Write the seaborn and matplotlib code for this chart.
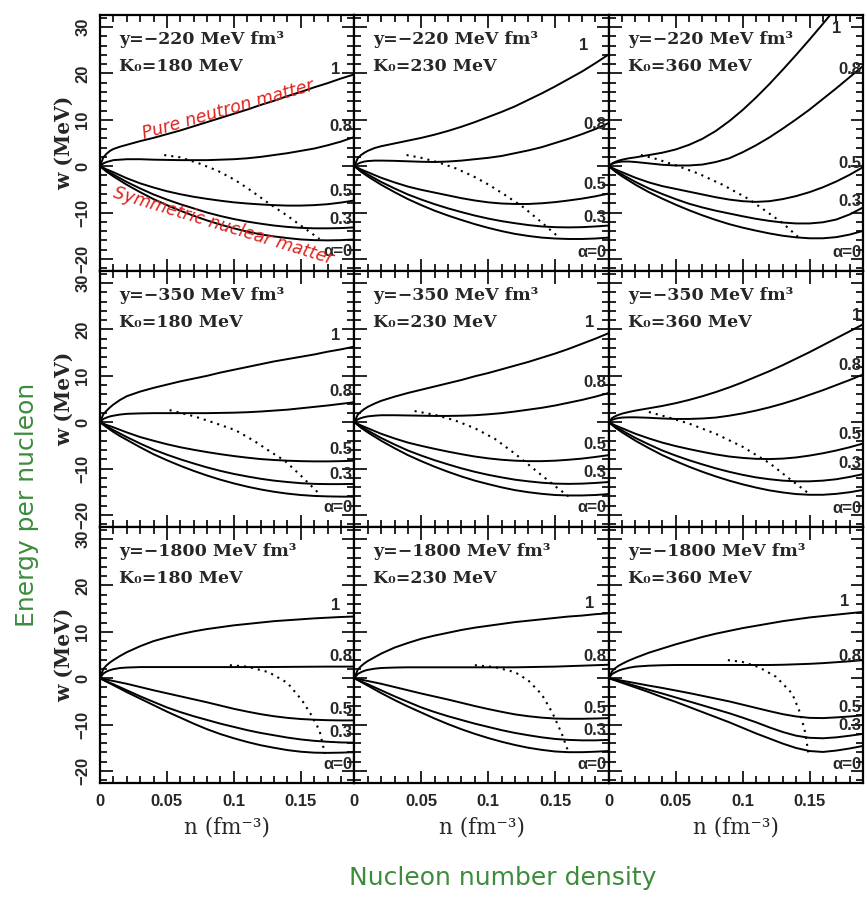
import numpy as np
import pandas as pd
import seaborn as sns
import matplotlib.pyplot as plt
from matplotlib.ticker import MultipleLocator

sns.set_theme(style="white")
plt.rcParams["font.family"] = ["DejaVu Sans"]

# density grid (fm^-3) on which the energy curves are tabulated
N = [0, 0.0025, 0.005, 0.0075, 0.01, 0.015, 0.02, 0.03, 0.04, 0.05, 0.06, 0.07,
     0.08, 0.09, 0.10, 0.11, 0.12, 0.13, 0.14, 0.15, 0.16, 0.17, 0.18, 0.19]
ALPHAS = ["1", "0.8", "0.5", "0.3", "0"]

# energy per nucleon w (MeV) for each asymmetry alpha; y=-220 MeV fm^3
w220_k180 = {
    "1":   [0, 1.9, 2.7, 3.3, 3.7, 4.2, 4.6, 5.4, 6.1, 6.9, 7.7, 8.6, 9.5, 10.4, 11.3, 12.2, 13.2, 14.1, 15.1, 16.0, 17.0, 17.9, 18.9, 19.8],
    "0.8": [0, 0.6, 0.9, 1.1, 1.3, 1.4, 1.5, 1.5, 1.4, 1.35, 1.3, 1.3, 1.3, 1.4, 1.5, 1.7, 2.0, 2.4, 2.8, 3.3, 3.8, 4.5, 5.3, 6.3],
    "0.5": [0, -0.35, -0.7, -1.0, -1.3, -1.95, -2.6, -3.7, -4.6, -5.4, -6.05, -6.6, -7.05, -7.45, -7.8, -8.05, -8.25, -8.4, -8.5, -8.5, -8.4, -8.2, -7.85, -7.4],
    "0.3": [0, -0.5, -1.0, -1.4, -1.8, -2.6, -3.4, -4.8, -6.1, -7.2, -8.2, -9.1, -10.0, -10.75, -11.4, -11.95, -12.4, -12.8, -13.1, -13.3, -13.4, -13.4, -13.35, -13.2],
    "0":   [0, -0.6, -1.2, -1.7, -2.2, -3.1, -4.0, -5.6, -7.1, -8.4, -9.6, -10.7, -11.7, -12.6, -13.4, -14.1, -14.7, -15.15, -15.5, -15.8, -15.95, -16.0, -15.95, -15.8],
}
w220_k230 = {
    "1":   [0, 1.7, 2.4, 2.9, 3.3, 3.9, 4.3, 4.9, 5.5, 6.1, 6.8, 7.6, 8.5, 9.5, 10.6, 11.7, 12.9, 14.3, 15.7, 17.2, 18.8, 20.4, 22.2, 24.1],
    "0.8": [0, 0.5, 0.8, 1.0, 1.1, 1.2, 1.2, 1.15, 1.05, 0.95, 0.9, 1.0, 1.2, 1.5, 1.8, 2.2, 2.8, 3.4, 4.1, 5.0, 5.9, 6.9, 8.0, 9.3],
    "0.5": [0, -0.35, -0.7, -1.0, -1.3, -1.9, -2.5, -3.5, -4.4, -5.1, -5.7, -6.3, -6.9, -7.4, -7.8, -8.05, -8.15, -8.15, -8.0, -7.75, -7.4, -7.0, -6.5, -5.9],
    "0.3": [0, -0.5, -1.0, -1.4, -1.8, -2.6, -3.4, -4.8, -6.1, -7.2, -8.2, -9.1, -9.9, -10.65, -11.3, -11.85, -12.3, -12.7, -13.0, -13.15, -13.2, -13.15, -13.0, -12.8],
    "0":   [0, -0.6, -1.2, -1.7, -2.2, -3.1, -4.0, -5.6, -7.1, -8.4, -9.6, -10.65, -11.6, -12.5, -13.3, -14.0, -14.6, -15.05, -15.4, -15.6, -15.7, -15.7, -15.6, -15.4],
}
w220_k360 = {
    "1":   [0, 0.6, 0.95, 1.2, 1.4, 1.7, 1.9, 2.4, 2.9, 3.6, 4.6, 5.9, 7.6, 9.7, 12.1, 14.8, 17.7, 20.8, 24.0, 27.3, 30.7, 34.2, 37.8, 41.5],
    "0.8": [0, 0.5, 0.75, 0.9, 1.0, 1.0, 0.9, 0.6, 0.3, 0.15, 0.15, 0.35, 0.9, 1.7, 3.0, 4.5, 6.2, 8.1, 10.1, 12.2, 14.5, 16.8, 19.2, 21.6],
    "0.5": [0, -0.35, -0.7, -1.0, -1.3, -1.9, -2.5, -3.5, -4.3, -4.9, -5.5, -6.1, -6.7, -7.2, -7.55, -7.7, -7.55, -7.1, -6.45, -5.6, -4.55, -3.3, -1.85, -0.2],
    "0.3": [0, -0.5, -1.0, -1.4, -1.8, -2.6, -3.4, -4.8, -6.0, -7.1, -8.1, -8.9, -9.6, -10.2, -10.8, -11.35, -11.8, -12.15, -12.35, -12.35, -12.1, -11.5, -10.4, -8.9],
    "0":   [0, -0.6, -1.2, -1.7, -2.2, -3.1, -4.0, -5.6, -7.0, -8.3, -9.5, -10.6, -11.6, -12.5, -13.25, -13.9, -14.5, -15.0, -15.35, -15.55, -15.55, -15.3, -14.75, -13.95],
}
# y=-350 MeV fm^3
w350_k180 = {
    "1":   [0, 1.7, 2.5, 3.2, 3.8, 4.8, 5.6, 6.6, 7.4, 8.1, 8.8, 9.4, 10.0, 10.7, 11.3, 11.9, 12.5, 13.1, 13.6, 14.1, 14.6, 15.2, 15.7, 16.3],
    "0.8": [0, 0.7, 1.0, 1.25, 1.4, 1.65, 1.8, 1.9, 1.95, 1.95, 1.95, 1.95, 1.95, 2.0, 2.05, 2.15, 2.3, 2.5, 2.7, 3.0, 3.3, 3.6, 3.95, 4.3],
    "0.5": [0, -0.3, -0.6, -0.85, -1.1, -1.65, -2.2, -3.2, -4.0, -4.75, -5.4, -5.95, -6.45, -6.9, -7.3, -7.65, -7.95, -8.15, -8.3, -8.4, -8.45, -8.45, -8.4, -8.3],
    "0.3": [0, -0.45, -0.9, -1.3, -1.7, -2.45, -3.2, -4.6, -5.9, -7.0, -8.0, -8.9, -9.75, -10.5, -11.15, -11.7, -12.2, -12.6, -12.9, -13.15, -13.3, -13.35, -13.35, -13.3],
    "0":   [0, -0.55, -1.1, -1.6, -2.1, -3.0, -3.8, -5.4, -6.9, -8.2, -9.4, -10.5, -11.5, -12.4, -13.2, -13.9, -14.5, -15.0, -15.4, -15.7, -15.9, -16.0, -16.05, -16.05],
}
w350_k230 = {
    "1":   [0, 1.6, 2.3, 2.85, 3.3, 4.0, 4.6, 5.5, 6.3, 7.0, 7.7, 8.4, 9.1, 9.9, 10.6, 11.4, 12.2, 13.0, 13.9, 14.8, 15.8, 16.9, 18.0, 19.2],
    "0.8": [0, 0.6, 0.9, 1.1, 1.25, 1.4, 1.5, 1.5, 1.45, 1.4, 1.35, 1.35, 1.4, 1.5, 1.7, 1.95, 2.3, 2.7, 3.1, 3.6, 4.2, 4.8, 5.5, 6.3],
    "0.5": [0, -0.35, -0.7, -1.0, -1.3, -1.9, -2.5, -3.5, -4.4, -5.1, -5.75, -6.35, -6.9, -7.4, -7.8, -8.1, -8.3, -8.4, -8.4, -8.3, -8.1, -7.85, -7.5, -7.1],
    "0.3": [0, -0.5, -1.0, -1.4, -1.8, -2.6, -3.4, -4.8, -6.1, -7.2, -8.2, -9.1, -9.95, -10.7, -11.35, -11.9, -12.4, -12.75, -13.05, -13.25, -13.3, -13.25, -13.1, -12.9],
    "0":   [0, -0.6, -1.2, -1.7, -2.2, -3.1, -4.0, -5.6, -7.1, -8.4, -9.6, -10.7, -11.7, -12.6, -13.35, -14.05, -14.65, -15.1, -15.45, -15.7, -15.8, -15.8, -15.7, -15.5],
}
w350_k360 = {
    "1":   [0, 0.9, 1.3, 1.6, 1.85, 2.2, 2.5, 3.0, 3.5, 4.1, 4.8, 5.6, 6.5, 7.5, 8.6, 9.8, 11.0, 12.3, 13.7, 15.1, 16.6, 18.1, 19.6, 21.1],
    "0.8": [0, 0.5, 0.75, 0.9, 1.0, 1.05, 1.05, 0.95, 0.8, 0.7, 0.7, 0.8, 1.0, 1.4, 1.9, 2.5, 3.2, 4.0, 4.9, 5.9, 6.9, 8.0, 9.1, 10.3],
    "0.5": [0, -0.35, -0.7, -1.0, -1.3, -1.9, -2.5, -3.5, -4.4, -5.15, -5.8, -6.4, -6.95, -7.4, -7.7, -7.9, -7.95, -7.85, -7.6, -7.2, -6.7, -6.1, -5.4, -4.6],
    "0.3": [0, -0.5, -1.0, -1.4, -1.8, -2.6, -3.4, -4.8, -6.1, -7.2, -8.2, -9.1, -9.95, -10.7, -11.35, -11.9, -12.3, -12.6, -12.75, -12.75, -12.6, -12.3, -11.8, -11.2],
    "0":   [0, -0.6, -1.2, -1.7, -2.2, -3.1, -4.0, -5.6, -7.1, -8.4, -9.6, -10.7, -11.7, -12.6, -13.4, -14.1, -14.7, -15.15, -15.5, -15.65, -15.65, -15.45, -15.1, -14.6],
}
# y=-1800 MeV fm^3
w1800_k180 = {
    "1":   [0, 2.0, 2.8, 3.4, 3.9, 4.8, 5.6, 6.9, 8.0, 8.8, 9.5, 10.1, 10.6, 11.0, 11.4, 11.7, 12.0, 12.3, 12.5, 12.7, 12.9, 13.05, 13.2, 13.3],
    "0.8": [0, 1.0, 1.45, 1.75, 1.95, 2.2, 2.3, 2.4, 2.4, 2.4, 2.4, 2.4, 2.4, 2.4, 2.4, 2.4, 2.4, 2.42, 2.44, 2.46, 2.48, 2.5, 2.5, 2.5],
    "0.5": [0, -0.15, -0.3, -0.45, -0.6, -0.9, -1.2, -1.9, -2.6, -3.25, -3.9, -4.55, -5.2, -5.9, -6.6, -7.2, -7.75, -8.2, -8.55, -8.8, -8.95, -9.05, -9.1, -9.1],
    "0.3": [0, -0.35, -0.7, -1.0, -1.3, -1.95, -2.6, -3.9, -5.1, -6.3, -7.3, -8.2, -9.0, -9.8, -10.5, -11.2, -11.8, -12.3, -12.8, -13.2, -13.5, -13.7, -13.85, -13.9],
    "0":   [0, -0.38, -0.75, -1.12, -1.5, -2.25, -3.0, -4.4, -5.8, -7.2, -8.5, -9.8, -11.0, -12.05, -12.95, -13.75, -14.45, -15.0, -15.5, -15.85, -16.05, -16.1, -16.05, -15.95],
}
w1800_k230 = {
    "1":   [0, 1.8, 2.6, 3.2, 3.7, 4.5, 5.3, 6.6, 7.6, 8.5, 9.2, 9.8, 10.4, 10.9, 11.3, 11.7, 12.1, 12.4, 12.7, 13.0, 13.3, 13.5, 13.8, 14.0],
    "0.8": [0, 0.9, 1.3, 1.6, 1.8, 2.05, 2.2, 2.3, 2.35, 2.35, 2.35, 2.35, 2.35, 2.35, 2.35, 2.35, 2.35, 2.4, 2.45, 2.5, 2.6, 2.7, 2.8, 2.9],
    "0.5": [0, -0.15, -0.3, -0.45, -0.6, -0.9, -1.2, -1.9, -2.6, -3.3, -3.95, -4.6, -5.3, -6.0, -6.65, -7.25, -7.8, -8.2, -8.5, -8.7, -8.75, -8.75, -8.7, -8.6],
    "0.3": [0, -0.35, -0.7, -1.0, -1.3, -1.95, -2.6, -3.9, -5.1, -6.3, -7.3, -8.2, -9.0, -9.8, -10.5, -11.2, -11.8, -12.3, -12.75, -13.1, -13.3, -13.4, -13.4, -13.3],
    "0":   [0, -0.4, -0.8, -1.2, -1.6, -2.4, -3.2, -4.7, -6.1, -7.4, -8.7, -9.9, -11.0, -12.0, -12.9, -13.7, -14.4, -15.0, -15.45, -15.8, -15.95, -15.95, -15.85, -15.7],
}
w1800_k360 = {
    "1":   [0, 1.5, 2.2, 2.7, 3.1, 3.8, 4.4, 5.5, 6.4, 7.3, 8.1, 8.9, 9.6, 10.2, 10.8, 11.3, 11.8, 12.3, 12.7, 13.1, 13.4, 13.7, 14.0, 14.3],
    "0.8": [0, 0.9, 1.3, 1.65, 1.9, 2.25, 2.5, 2.7, 2.8, 2.85, 2.85, 2.85, 2.85, 2.85, 2.85, 2.85, 2.85, 2.9, 3.0, 3.1, 3.25, 3.45, 3.65, 3.9],
    "0.5": [0, -0.13, -0.26, -0.4, -0.53, -0.8, -1.06, -1.6, -2.1, -2.65, -3.2, -3.8, -4.4, -5.0, -5.7, -6.4, -7.1, -7.75, -8.25, -8.55, -8.6, -8.45, -8.25, -8.0],
    "0.3": [0, -0.2, -0.4, -0.62, -0.83, -1.25, -1.66, -2.5, -3.3, -4.15, -5.0, -5.85, -6.7, -7.55, -8.5, -9.5, -10.6, -11.6, -12.4, -12.85, -12.95, -12.75, -12.4, -12.0],
    "0":   [0, -0.25, -0.5, -0.75, -1.0, -1.5, -2.0, -3.0, -4.1, -5.1, -6.2, -7.3, -8.4, -9.5, -10.7, -11.9, -13.0, -14.1, -15.05, -15.7, -15.9, -15.6, -15.15, -14.6],
}

# dotted locus: (n, w) pairs per panel
dot220_k180 = ([0.048, 0.06, 0.074, 0.088, 0.101, 0.113, 0.126, 0.139, 0.151, 0.164],
               [2.4, 1.9, 0.6, -1.0, -3.0, -5.3, -8.0, -10.5, -13.0, -15.7])
dot220_k230 = ([0.039, 0.05, 0.063, 0.076, 0.089, 0.101, 0.113, 0.126, 0.139, 0.153],
               [2.4, 1.8, 0.8, -0.5, -2.2, -4.1, -6.3, -8.8, -11.9, -15.4])
dot220_k360 = ([0.024, 0.035, 0.05, 0.067, 0.085, 0.104, 0.118, 0.130, 0.142],
               [2.4, 1.6, 0.2, -1.6, -4.0, -7.0, -9.8, -12.3, -15.4])
dot350_k180 = ([0.052, 0.07, 0.085, 0.101, 0.115, 0.128, 0.138, 0.150, 0.164],
               [2.6, 1.3, -0.1, -1.7, -4.0, -6.5, -8.3, -11.5, -15.5])
dot350_k230 = ([0.045, 0.06, 0.075, 0.09, 0.105, 0.12, 0.135, 0.15, 0.16],
               [2.4, 1.6, 0.4, -1.3, -3.6, -6.8, -10.3, -13.8, -16.0])
dot350_k360 = ([0.03, 0.045, 0.06, 0.08, 0.10, 0.12, 0.135, 0.15],
               [2.2, 1.0, -0.3, -2.5, -5.3, -8.8, -12.2, -15.5])
dot1800_k180 = ([0.097, 0.11, 0.126, 0.14, 0.151, 0.158, 0.164, 0.168],
                [2.8, 2.5, 1.3, -1.0, -4.8, -8.0, -11.3, -16.3])
dot1800_k230 = ([0.09, 0.105, 0.12, 0.13, 0.14, 0.148, 0.155, 0.16],
                [2.8, 2.4, 1.3, -0.5, -3.5, -7.5, -12.0, -16.0])
dot1800_k360 = ([0.089, 0.10, 0.112, 0.125, 0.137, 0.143, 0.147, 0.149],
                [3.9, 3.5, 2.4, 0.3, -3.3, -7.5, -12.0, -16.0])

Y_PARAMS = ["\u2212220", "\u2212350", "\u22121800"]
K_PARAMS = ["180", "230", "360"]

CURVES = [[w220_k180, w220_k230, w220_k360],
          [w350_k180, w350_k230, w350_k360],
          [w1800_k180, w1800_k230, w1800_k360]]
DOTS = [[dot220_k180, dot220_k230, dot220_k360],
        [dot350_k180, dot350_k230, dot350_k360],
        [dot1800_k180, dot1800_k230, dot1800_k360]]

# curve-label placement (n, w) per panel, in the order 1, 0.8, 0.5, 0.3, 0
LABEL_POS = [
    [[(0.176, 20.8), (0.1885, 8.6), (0.1885, -5.4), (0.1885, -11.5), (0.1885, -18.4)],
     [(0.171, 26.0), (0.1885, 9.0), (0.1885, -4.0), (0.1885, -11.0), (0.1885, -18.6)],
     [(0.170, 29.6), (0.1885, 20.8), (0.1885, 0.6), (0.1885, -7.6), (0.1885, -18.6)]],
    [[(0.176, 18.6), (0.1885, 6.6), (0.1885, -5.9), (0.1885, -11.3), (0.1885, -18.4)],
     [(0.176, 21.4), (0.1885, 8.5), (0.1885, -4.9), (0.1885, -10.9), (0.1885, -18.4)],
     [(0.1885, 23.0), (0.1885, 12.2), (0.1885, -2.6), (0.1885, -9.0), (0.1885, -18.6)]],
    [[(0.176, 15.6), (0.1885, 4.6), (0.1885, -6.8), (0.1885, -11.6), (0.1885, -18.7)],
     [(0.176, 16.1), (0.1885, 4.6), (0.1885, -6.5), (0.1885, -11.2), (0.1885, -18.7)],
     [(0.176, 16.5), (0.1885, 4.6), (0.1885, -6.3), (0.1885, -10.3), (0.1885, -18.7)]],
]
LABEL_TEXT = ["1", "0.8", "0.5", "0.3", "\u03b1=0"]

fig, axes = plt.subplots(3, 3, figsize=(8.67, 9.02), dpi=100)
fig.subplots_adjust(left=0.1153, right=0.9955, top=0.9834, bottom=0.1319,
                    wspace=0, hspace=0)

tick_font = dict(family="Liberation Sans", weight="bold", size=12)
serif = "DejaVu Serif"

for r in range(3):
    for c in range(3):
        ax = axes[r, c]
        data = CURVES[r][c]
        df = pd.DataFrame({a: data[a] for a in ALPHAS})
        df["n"] = N
        long = df.melt(id_vars="n", var_name="alpha", value_name="w")
        sns.lineplot(data=long, x="n", y="w", units="alpha", estimator=None,
                     color="black", linewidth=1.4, ax=ax, sort=False)
        dn, dw = DOTS[r][c]
        sns.lineplot(x=dn, y=dw, color="black", linewidth=1.5,
                     linestyle=(0, (1, 2.4)), ax=ax, sort=False)

        ax.set_xlim(0, 0.19)
        ax.set_ylim(-22.6, 32.6)
        ax.xaxis.set_major_locator(MultipleLocator(0.05))
        ax.xaxis.set_minor_locator(MultipleLocator(0.01))
        ax.yaxis.set_major_locator(MultipleLocator(10))
        ax.yaxis.set_minor_locator(MultipleLocator(2))
        ax.tick_params(which="both", direction="in", top=True, right=True,
                       bottom=True, left=True, color="black", width=1.2)
        ax.tick_params(which="major", length=9)
        ax.tick_params(which="minor", length=5)
        for s in ax.spines.values():
            s.set_color("black")
            s.set_linewidth(1.6)
        ax.set_xlabel("")
        ax.set_ylabel("")

        if r == 2:
            ax.set_xticks([0, 0.05, 0.1, 0.15])
            ax.set_xticklabels(["0", "0.05", "0.1", "0.15"], **tick_font)
            ax.tick_params(axis="x", pad=8)
            ax.set_xlabel("n (fm\u207b\u00b3)", family=serif, fontsize=15.5, labelpad=5)
        else:
            ax.set_xticklabels([])
        if c == 0:
            ax.set_yticks([-20, -10, 0, 10, 20, 30])
            ax.set_yticklabels(["\u221220", "\u221210", "0", "10", "20", "30"],
                               rotation=90, va="center", **tick_font)
            ax.tick_params(axis="y", pad=7)
            ax.set_ylabel("w (MeV)", family=serif, fontsize=14.5, weight="bold", labelpad=1)
        else:
            ax.set_yticklabels([])

        ax.text(0.075, 0.905, f"y={Y_PARAMS[r]} MeV fm\u00b3", transform=ax.transAxes,
                family=serif, fontsize=12.5, weight="bold", va="center", ha="left")
        ax.text(0.075, 0.80, f"K\u2080={K_PARAMS[c]} MeV", transform=ax.transAxes,
                family=serif, fontsize=12.5, weight="bold", va="center", ha="left")

        for i, txt in enumerate(LABEL_TEXT):
            lx, ly = LABEL_POS[r][c][i]
            ax.text(lx, ly, txt, ha="right" if i > 0 or lx > 0.185 else "center",
                    va="center", fontsize=12, weight="bold",
                    family="Liberation Sans", clip_on=False)

# handwritten-style annotations
ax0 = axes[0, 0]
ax0.text(0.096, 12.2, "Pure neutron matter", color="#e0221d", fontsize=12.5,
         rotation=16, ha="center", va="center", family="DejaVu Sans", style="italic")
ax0.text(0.092, -12.8, "Symmetric nuclear matter", color="#e0221d", fontsize=12.5,
         rotation=-17, ha="center", va="center", family="DejaVu Sans", style="italic")

fig.text(0.031, 0.44, "Energy per nucleon", color="#3c8c3c", fontsize=18,
         rotation=90, ha="center", va="center", family="DejaVu Sans")
fig.text(0.58, 0.027, "Nucleon number density", color="#3c8c3c", fontsize=18,
         ha="center", va="center", family="DejaVu Sans")

fig.savefig("out.png", dpi=100)
